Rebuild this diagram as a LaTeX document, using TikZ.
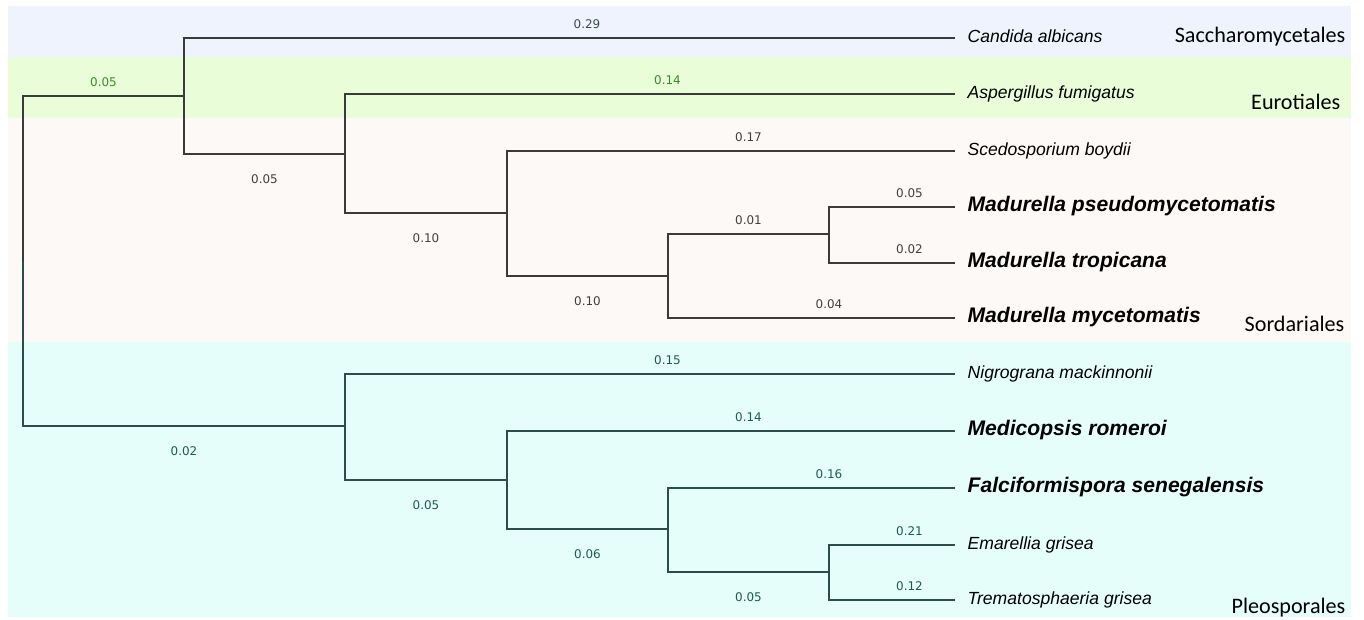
\documentclass[tikz,border=0pt]{standalone}
\usepackage{fontspec}
\setmainfont{Liberation Sans}
\newfontfamily\numfont{DejaVu Sans}
\newfontfamily\cladefont{Carlito}

\definecolor{bandblue}{HTML}{EEF3FD}
\definecolor{bandgreen}{HTML}{E8FDD8}
\definecolor{bandpink}{HTML}{FDF9F6}
\definecolor{bandcyan}{HTML}{E5FEFA}
\definecolor{linegray}{HTML}{3A3A3A}
\definecolor{lineteal}{HTML}{2D4D4A}
\definecolor{labgray}{HTML}{404040}
\definecolor{labgreen}{HTML}{3C8A28}
\definecolor{labslate}{HTML}{3A4A5C}
\definecolor{labteal}{HTML}{1F5A50}

\tikzset{
  leaf/.style={anchor=west, inner xsep=0.24cm, inner ysep=0pt,
    text height=0.75em, text depth=0.25em,
    font=\itshape\fontsize{10}{12}\selectfont},
  boldleaf/.style={leaf, font=\bfseries\itshape\fontsize{12}{14}\selectfont},
  len/.style={inner sep=0pt, font=\numfont\fontsize{6.8}{8}\selectfont},
  up/.style={len, pos=0.75, yshift=0.28cm},
  down/.style={len, pos=0.75, yshift=-0.5cm},
  tip/.style={xshift=0.35cm},
  clade/.style={anchor=east, inner sep=0pt, font=\cladefont\fontsize{12.6}{14}\selectfont}
}

\begin{document}
\begin{tikzpicture}[x=0.02cm, y=-0.02cm, line width=0.75pt]
  \useasboundingbox (0,0) rectangle (1364,619);

  % order bands
  \fill[bandblue] (8,6) rectangle (1351,57);
  \fill[bandgreen] (8,57) rectangle (1351,118);
  \fill[bandpink] (8,118) rectangle (1351,342);
  \fill[bandcyan] (8,342) rectangle (1351,617);
  \node[clade] (sacch) at (1346,37) {Saccharomycetales};
  \node[clade] (euro) at (1341,102) {Eurotiales};
  \node[clade] (sord) at (1345,324) {Sordariales};
  \node[clade] (pleo) at (1346,608) {Pleosporales};

  % inner nodes of the tree
  \coordinate (n0) at (23,261);
  \coordinate (n1) at (184,96);
  \coordinate (n2) at (345,154);
  \coordinate (n3) at (507,213);
  \coordinate (n4) at (668,276);
  \coordinate (n5) at (829,234);
  \coordinate (n6) at (345,426);
  \coordinate (n7) at (507,480);
  \coordinate (n8) at (668,529);
  \coordinate (n9) at (829,572);

  % leaves
  \node[leaf] (calb) at (955,38) {Candida albicans};
  \node[leaf] (afum) at (955,94) {Aspergillus fumigatus};
  \node[leaf] (sboy) at (955,151) {Scedosporium boydii};
  \node[boldleaf] (mpse) at (955,207) {Madurella pseudomycetomatis};
  \node[boldleaf] (mtro) at (955,263) {Madurella tropicana};
  \node[boldleaf] (mmyc) at (955,318) {Madurella mycetomatis};
  \node[leaf] (nmac) at (955,374) {Nigrograna mackinnonii};
  \node[boldleaf] (mrom) at (955,431) {Medicopsis romeroi};
  \node[boldleaf] (fsen) at (955,488) {Falciformispora senegalensis};
  \node[leaf] (egri) at (955,545) {Emarellia grisea};
  \node[leaf] (tgri) at (955,600) {Trematosphaeria grisea};

  \begin{scope}[draw=linegray, every node/.append style={text=labgray}]
    \draw (n0) |- node[up, text=labgreen] {0.05} (n1);
    \draw (n1) |- node[up, tip, text=labslate] {0.29} (calb);
    \draw (n1) |- node[down] {0.05} (n2);
    \draw (n2) |- node[up, tip, text=labgreen] {0.14} (afum);
    \draw (n2) |- node[down] {0.10} (n3);
    \draw (n3) |- node[up, tip] {0.17} (sboy);
    \draw (n3) |- node[down] {0.10} (n4);
    \draw (n4) |- node[up] {0.01} (n5);
    \draw (n4) |- node[up, tip] {0.04} (mmyc);
    \draw (n5) |- node[up, tip] {0.05} (mpse);
    \draw (n5) |- node[up, tip] {0.02} (mtro);
  \end{scope}
  \begin{scope}[draw=lineteal, every node/.append style={text=labteal}]
    \draw (n0) |- node[down] {0.02} (n6);
    \draw (n6) |- node[up, tip] {0.15} (nmac);
    \draw (n6) |- node[down] {0.05} (n7);
    \draw (n7) |- node[up, tip] {0.14} (mrom);
    \draw (n7) |- node[down] {0.06} (n8);
    \draw (n8) |- node[up, tip] {0.16} (fsen);
    \draw (n8) |- node[down] {0.05} (n9);
    \draw (n9) |- node[up, tip] {0.21} (egri);
    \draw (n9) |- node[up, tip] {0.12} (tgri);
  \end{scope}
\end{tikzpicture}
\end{document}
